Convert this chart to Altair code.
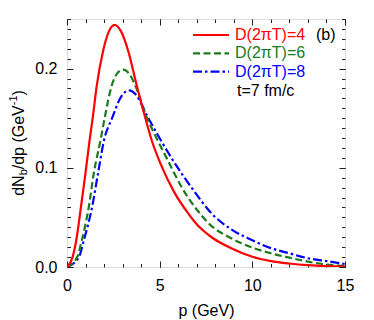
import altair as alt
import pandas as pd

# ---- data ----
p_d4 = [0, 0.3, 0.5, 0.75, 1.0, 1.2, 1.4, 1.6, 1.95, 2.25, 2.57, 2.9, 3.3, 3.75, 4.2, 4.6, 5.05, 5.8, 6.5, 7.0, 7.8, 8.86, 10, 11, 12, 13, 14, 15]
v_d4 = [0, 0.010, 0.027, 0.060, 0.095, 0.125, 0.152, 0.182, 0.218, 0.237, 0.244, 0.238, 0.218, 0.184, 0.152, 0.126, 0.104, 0.075, 0.055, 0.043, 0.030, 0.019, 0.0104, 0.006, 0.0035, 0.0018, 0.0008, 0.0003]

p_d6 = [0, 0.55, 0.8, 1.18, 1.45, 1.8, 2.03, 2.43, 2.7, 3.03, 3.35, 3.66, 4.28, 4.8, 5.4, 6.2, 7.0, 7.7, 8.86, 10, 11, 12, 13, 14, 15]
v_d6 = [0, 0.010, 0.027, 0.061, 0.095, 0.127, 0.150, 0.184, 0.195, 0.199, 0.195, 0.184, 0.152, 0.131, 0.109, 0.080, 0.058, 0.043, 0.029, 0.0195, 0.0138, 0.0094, 0.0054, 0.0025, 0.001]

p_d8 = [0, 0.64, 0.91, 1.36, 1.68, 2.0, 2.43, 2.9, 3.33, 3.75, 4.33, 4.9, 5.7, 6.8, 7.8, 8.86, 10, 11, 12, 13, 14, 15]
v_d8 = [0, 0.010, 0.027, 0.061, 0.095, 0.128, 0.150, 0.171, 0.178, 0.173, 0.152, 0.133, 0.108, 0.078, 0.054, 0.038, 0.027, 0.019, 0.0138, 0.0088, 0.006, 0.003]

series_labels = ["D(2πT)=4", "D(2πT)=6", "D(2πT)=8"]
series_colors = ["#ff0000", "#1b7a1b", "#0000ff"]
series_dashes = [None, [7, 3.5], [9, 3, 2.5, 3]]
annotation = "t=7 fm/c"
panel_tag = "(b)"

x_major = [0, 5, 10, 15]
x_minor = list(range(0, 16))
y_major = [0.0, 0.1, 0.2]
y_minor = [round(i * 0.01, 2) for i in range(0, 26)]

FONT = "Liberation Sans"
FRAME = "#222222"
MAJ = 6
MIN = 3.5

W, H = 278, 248

xscale = alt.Scale(domain=[0, 15], nice=False, zero=False)
yscale = alt.Scale(domain=[0, 0.25], nice=False, zero=False)


def axis(orient, values, size, labels=False, title="", **extra):
    kw = dict(orient=orient, values=values, tickSize=size, offset=-size,
              domain=False, grid=False, labels=labels, ticks=True,
              tickColor=FRAME, tickWidth=1, title=title)
    kw.update(extra)
    return alt.Axis(**kw)


def frame_df(p, v):
    return pd.DataFrame({"p": p, "v": v})


def curve(p, v, i, xa, ya, opacity=1.0):
    mk = dict(color=series_colors[i], strokeWidth=2.2, interpolate="monotone",
              strokeOpacity=opacity, clip=True)
    if series_dashes[i]:
        mk["strokeDash"] = series_dashes[i]
    return alt.Chart(frame_df(p, v)).mark_line(**mk).encode(
        x=alt.X("p:Q", scale=xscale, axis=xa),
        y=alt.Y("v:Q", scale=yscale, axis=ya),
    )


lbl = dict(labelFont=FONT, labelFontSize=16, labelColor="black", labelFlush=False)
ttl = dict(titleFont=FONT, titleFontSize=16, titleFontWeight="normal", titleColor="black")

x_bottom_major = axis("bottom", x_major, MAJ, labels=True, title="p (GeV)",
                      labelPadding=10, titlePadding=9, **lbl, **ttl)
y_left_major = axis("left", y_major, MAJ, labels=True, format=".1f",
                    labelPadding=10, **lbl)
x_bottom_minor = axis("bottom", x_minor, MIN)
y_left_minor = axis("left", y_minor, MIN)
x_top_major = axis("top", x_major, MAJ)
y_right_major = axis("right", y_major, MAJ)
x_top_minor = axis("top", x_minor, MIN)
y_right_minor = axis("right", y_minor, MIN)

layers = [
    curve(p_d8, v_d8, 2, x_top_major, y_right_major),
    curve(p_d6, v_d6, 1, x_bottom_minor, y_left_minor),
    curve(p_d4, v_d4, 0, x_bottom_major, y_left_major),
    curve(p_d4, v_d4, 0, x_top_minor, y_right_minor, opacity=0.0),
]

# ---- legend (drawn by hand) ----
leg_x0, leg_x1, leg_tx = 126, 162, 168
row_y = [16, 34.3, 52.7]
for i, lab in enumerate(series_labels):
    rk = dict(color=series_colors[i], strokeWidth=2.2)
    if series_dashes[i]:
        rk["strokeDash"] = series_dashes[i]
    layers.append(
        alt.Chart(pd.DataFrame({"k": [0]})).mark_rule(**rk).encode(
            x=alt.value(leg_x0), x2=alt.value(leg_x1), y=alt.value(row_y[i]))
    )
    layers.append(
        alt.Chart(pd.DataFrame({"t": [lab]})).mark_text(
            align="left", baseline="middle", font=FONT, fontSize=16,
            color=series_colors[i]).encode(
            x=alt.value(leg_tx), y=alt.value(row_y[i]), text="t:N")
    )

layers.append(
    alt.Chart(pd.DataFrame({"t": [annotation]})).mark_text(
        align="left", baseline="middle", font=FONT, fontSize=16, color="black").encode(
        x=alt.value(170), y=alt.value(71.5), text="t:N")
)
layers.append(
    alt.Chart(pd.DataFrame({"t": [panel_tag]})).mark_text(
        align="left", baseline="middle", font=FONT, fontSize=16, color="black").encode(
        x=alt.value(249), y=alt.value(16), text="t:N")
)

# ---- y-axis title with sub/superscripts (rotated pieces) ----
ty_x = -48
pieces = [
    ("dN", 16, 0, 20.5),
    ("b", 11, 5, 6.1),
    ("/dp (GeV", 16, 0, 64.0),
    ("-1", 11, -5.5, 9.8),
    (")", 16, 0, 5.3),
]
total = sum(pc[3] for pc in pieces)
start = H / 2 + total / 2
for txt, fs, dx, w in pieces:
    layers.append(
        alt.Chart(pd.DataFrame({"t": [txt]})).mark_text(
            align="left", baseline="middle", font=FONT, fontSize=fs,
            angle=270, color="black").encode(
            x=alt.value(ty_x + dx), y=alt.value(start), text="t:N")
    )
    start -= w

chart = alt.layer(*layers).resolve_axis(x="independent", y="independent").properties(
    width=W, height=H,
    autosize=alt.AutoSizeParams(type="none"),
    padding={"left": 59, "top": 11, "right": 21, "bottom": 53},
).configure_view(stroke=FRAME, strokeWidth=1.2).configure(background="white")

chart.save("out.html", embed_options={"renderer": "svg", "actions": False})
